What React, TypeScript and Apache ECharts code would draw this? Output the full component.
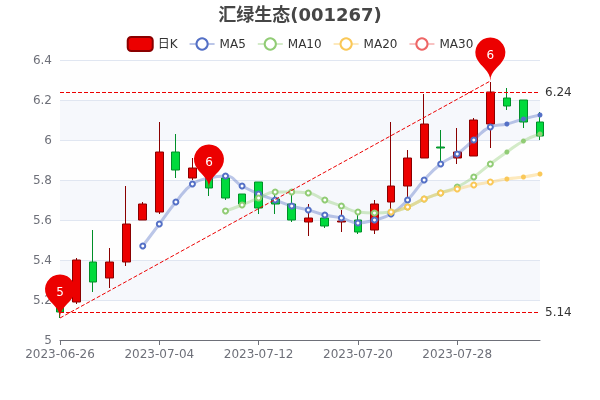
import React, { useEffect, useRef } from "react";
import * as echarts from "echarts";

const titleText = "汇绿生态(001267)";
const dates = [
  "2023-06-26","2023-06-27","2023-06-28","2023-06-29","2023-06-30","2023-07-03","2023-07-04","2023-07-05","2023-07-06","2023-07-07",
  "2023-07-10","2023-07-11","2023-07-12","2023-07-13","2023-07-14","2023-07-17","2023-07-18","2023-07-19","2023-07-20","2023-07-21",
  "2023-07-24","2023-07-25","2023-07-26","2023-07-27","2023-07-28","2023-07-31","2023-08-01","2023-08-02","2023-08-03","2023-08-04",
];
const opens = [5.22,5.19,5.39,5.31,5.39,5.6,5.64,5.94,5.81,5.82,5.81,5.73,5.79,5.705,5.68,5.59,5.61,5.59,5.6,5.55,5.69,5.77,5.91,5.965,5.91,5.92,6.08,6.21,6.2,6.09];
const closes = [5.14,5.4,5.29,5.39,5.58,5.68,5.94,5.85,5.86,5.76,5.71,5.68,5.66,5.68,5.6,5.61,5.57,5.595,5.54,5.68,5.77,5.91,6.08,5.96,5.94,6.1,6.24,6.17,6.09,6.02];
const lows = [5.11,5.18,5.24,5.26,5.37,5.6,5.63,5.81,5.8,5.72,5.7,5.67,5.63,5.63,5.59,5.52,5.56,5.54,5.53,5.53,5.63,5.69,5.91,5.865,5.88,5.92,5.96,6.15,6.06,6.0];
const highs = [5.23,5.41,5.55,5.46,5.77,5.69,6.09,6.03,5.91,5.83,5.82,5.73,5.79,5.725,5.75,5.68,5.61,5.65,5.63,5.7,6.09,5.95,6.23,6.05,6.06,6.11,6.29,6.26,6.2,6.14];
const ma5 = [null,null,null,null,null,5.47,5.58,5.69,5.78,5.81,5.82,5.77,5.73,5.7,5.67,5.65,5.625,5.61,5.585,5.6,5.63,5.7,5.8,5.88,5.93,6.0,6.065,6.08,6.105,6.125];
const ma10 = [null,null,null,null,null,null,null,null,null,null,5.645,5.675,5.71,5.74,5.74,5.735,5.7,5.67,5.64,5.635,5.64,5.665,5.705,5.735,5.765,5.815,5.88,5.94,5.995,6.03];
const ma20 = [null,null,null,null,null,null,null,null,null,null,null,null,null,null,null,null,null,null,null,null,5.64,5.665,5.705,5.735,5.755,5.775,5.79,5.805,5.815,5.83];
const ma30: (number | null)[] = [];
const legendNames = ["日K", "MA5", "MA10", "MA20", "MA30"];
const yTicks = { min: 5, max: 6.4, interval: 0.2 };
const horizontalMarks = [6.24, 5.14];
const trendStart = [0, 5.11];
const trendEnd = [26, 6.295];
const pins = [
  { coord: [0, 5.11], value: 5 },
  { coord: [9, 5.76], value: 6 },
  { coord: [26, 6.295], value: 6 },
];
const solidFrom = 27;

const RED = "#ec0000";
const FONT = '"DejaVu Sans", "Noto Sans CJK SC", sans-serif';
const maSeries = (name: string, data: (number | null)[], color: string) => ({
  name,
  type: "line",
  data: data.map((v, i) => (i >= solidFrom ? { value: v, symbol: "circle", symbolSize: 5 } : v)),
  smooth: true,
  symbol: "emptyCircle",
  symbolSize: 5,
  showSymbol: true,
  showAllSymbol: true,
  itemStyle: { color, borderWidth: 2 },
  lineStyle: { width: 3, opacity: 0.4, color },
  z: 3,
});

export default function App() {
  const ref = useRef<HTMLDivElement>(null);
  useEffect(() => {
    const chart = echarts.init(ref.current!, undefined, { renderer: "svg" });
    chart.setOption({
      animation: false,
      textStyle: { fontFamily: FONT },
      color: ["#c23531", "#5470c6", "#91cc75", "#fac858", "#ee6666"],
      title: { text: titleText, left: "center", top: 0, textStyle: { fontFamily: FONT, fontSize: 18, fontWeight: "bold", color: "#464646" } },
      legend: { data: legendNames, top: 31, left: "center", itemGap: 11, textStyle: { fontFamily: FONT, color: "#333" } },
      grid: { left: 60, right: 60, top: 60, bottom: 60 },
      xAxis: {
        type: "category",
        data: dates,
        boundaryGap: false,
        axisLabel: { interval: 5, color: "#6E7079", fontSize: 12, fontFamily: FONT },
        axisTick: { interval: 5, alignWithLabel: true },
        axisLine: { lineStyle: { color: "#6E7079" } },
        splitLine: { show: false },
      },
      yAxis: {
        type: "value",
        min: yTicks.min,
        max: yTicks.max,
        interval: yTicks.interval,
        axisLabel: { color: "#6E7079", fontSize: 12, fontFamily: FONT },
        axisLine: { show: false },
        axisTick: { show: false },
        splitLine: { show: true, lineStyle: { color: "#E0E6F1" } },
        splitArea: { show: true, areaStyle: { color: ["rgba(250,250,250,0.2)", "rgba(210,219,238,0.2)"] } },
      },
      series: [
        {
          name: "日K",
          type: "candlestick",
          clip: false,
          data: dates.map((_, i) => [opens[i], closes[i], lows[i], highs[i]]),
          itemStyle: { color: RED, color0: "#00da3c", borderColor: "#8A0000", borderColor0: "#008F28" },
          markPoint: {
            symbol: "pin",
            symbolSize: 50,
            itemStyle: { color: RED },
            label: { show: true, color: "#fff", fontSize: 12, fontFamily: FONT },
            data: pins.map((p) => ({ coord: p.coord, value: p.value })),
          },
          markLine: {
            symbol: "none",
            silent: true,
            lineStyle: { color: RED, type: "dashed", width: 1 },
            label: { show: true, position: "end", color: "#333", fontSize: 12, fontFamily: FONT },
            data: [
              ...horizontalMarks.map((v) => ({ yAxis: v })),
              [
                { coord: trendStart, symbol: "none", label: { show: false }, lineStyle: { color: RED, type: "dashed", width: 1 } },
                { coord: trendEnd, symbol: "none" },
              ],
            ],
          },
        },
        maSeries("MA5", ma5, "#5470c6"),
        maSeries("MA10", ma10, "#91cc75"),
        maSeries("MA20", ma20, "#fac858"),
        maSeries("MA30", ma30, "#ee6666"),
      ],
    });
    return () => chart.dispose();
  }, []);
  return <div ref={ref} style={{ position: "fixed", left: 0, top: 0, width: 600, height: 400 }} />;
}
